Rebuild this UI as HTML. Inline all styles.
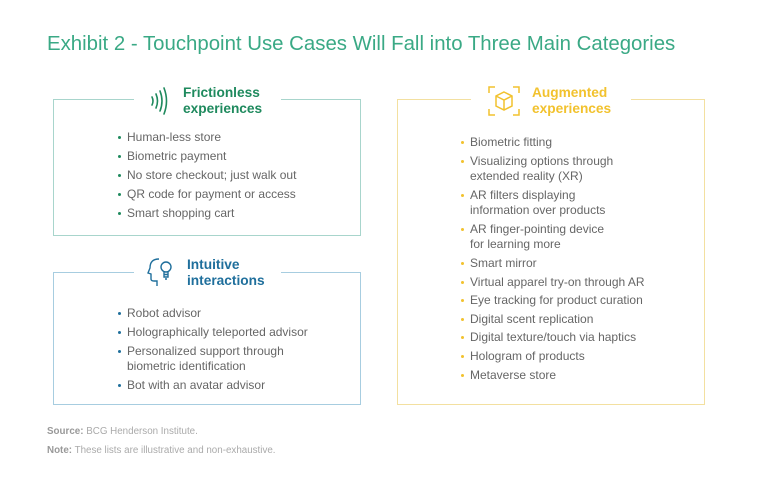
<!DOCTYPE html>
<html><head><meta charset="utf-8"><style>
body{margin:0;width:768px;height:487px;background:#fff;font-family:"Liberation Sans",sans-serif;position:relative;overflow:hidden}
.t{position:absolute;left:47px;top:33px;font-size:20.4px;color:#3aa985;white-space:nowrap}
.box{position:absolute;border:1px solid;}
.gap{position:absolute;top:-2px;height:4px;background:#fff}
.h{position:absolute;font-weight:bold;font-size:13.7px;line-height:16px}
.li{position:absolute;font-size:12px;color:#666;line-height:15px;white-space:nowrap}
.li b{position:absolute;left:-9px;top:6px;width:3px;height:3px;border-radius:50%}
.s{position:absolute;left:47px;font-size:9.8px;color:#aaa}
.s b{color:#999}
</style></head><body>
<div class="t">Exhibit 2 - Touchpoint Use Cases Will Fall into Three Main Categories</div>

<div class="box" style="left:53px;top:99px;width:306px;height:135px;border-color:#a8d5cc"><div class="gap" style="left:80px;width:147px"></div></div>
<div class="box" style="left:53px;top:272px;width:306px;height:131px;border-color:#a7cde0"><div class="gap" style="left:80px;width:147px"></div></div>
<div class="box" style="left:397px;top:99px;width:306px;height:304px;border-color:#f3e0a0"><div class="gap" style="left:73px;width:160px"></div></div>

<svg style="position:absolute;left:148px;top:86px" width="24" height="30" viewBox="0 0 24 30" fill="none" stroke="#1f8a5e" stroke-width="1.6" stroke-linecap="round">
<path d="M4 11 Q6 15 4 19"/><path d="M8 8 Q11 15 8 22"/><path d="M12 5 Q16 15 12 25"/><path d="M16 2 Q21 15 16 28"/></svg>
<div class="h" style="left:183px;top:85px;color:#1f8a5e">Frictionless<br>experiences</div>

<svg style="position:absolute;left:147px;top:257px" width="28" height="30" viewBox="0 0 28 30" fill="none" stroke="#1f6f9c" stroke-width="1.4">
<path d="M12 2 Q3 2 3 11 L1 16 L4 17 L4 22 Q4 24 7 24 L10 24 L10 29"/><circle cx="19" cy="10" r="5"/><path d="M17 15 L17 20 L21 20 L21 15 M17 17.5 H21 M18 22 H20"/></svg>
<div class="h" style="left:187px;top:257px;color:#1f6f9c">Intuitive<br>interactions</div>

<svg style="position:absolute;left:488px;top:85px" width="32" height="32" viewBox="0 0 32 32" fill="none" stroke="#f2c22e" stroke-width="1.5">
<path d="M1 8 V2 H7 M25 2 H31 V8 M31 24 V30 H25 M7 30 H1 V24"/><path d="M16 7 L24 11 L24 21 L16 25 L8 21 L8 11 Z M8 11 L16 15 L24 11 M16 15 V25"/></svg>
<div class="h" style="left:532px;top:85px;color:#f2c22e">Augmented<br>experiences</div>

<div class="li" style="left:127px;top:130px"><b style="background:#1f8a5e"></b>Human-less store</div>
<div class="li" style="left:127px;top:149px"><b style="background:#1f8a5e"></b>Biometric payment</div>
<div class="li" style="left:127px;top:168px"><b style="background:#1f8a5e"></b>No store checkout; just walk out</div>
<div class="li" style="left:127px;top:187px"><b style="background:#1f8a5e"></b>QR code for payment or access</div>
<div class="li" style="left:127px;top:206px"><b style="background:#1f8a5e"></b>Smart shopping cart</div>

<div class="li" style="left:127px;top:306px"><b style="background:#1f6f9c"></b>Robot advisor</div>
<div class="li" style="left:127px;top:325px"><b style="background:#1f6f9c"></b>Holographically teleported advisor</div>
<div class="li" style="left:127px;top:344px"><b style="background:#1f6f9c"></b>Personalized support through<br>biometric identification</div>
<div class="li" style="left:127px;top:378px"><b style="background:#1f6f9c"></b>Bot with an avatar advisor</div>

<div class="li" style="left:470px;top:135px"><b style="background:#f2c22e"></b>Biometric fitting</div>
<div class="li" style="left:470px;top:154px"><b style="background:#f2c22e"></b>Visualizing options through<br>extended reality (XR)</div>
<div class="li" style="left:470px;top:188px"><b style="background:#f2c22e"></b>AR filters displaying<br>information over products</div>
<div class="li" style="left:470px;top:222px"><b style="background:#f2c22e"></b>AR finger-pointing device<br>for learning more</div>
<div class="li" style="left:470px;top:256px"><b style="background:#f2c22e"></b>Smart mirror</div>
<div class="li" style="left:470px;top:275px"><b style="background:#f2c22e"></b>Virtual apparel try-on through AR</div>
<div class="li" style="left:470px;top:293px"><b style="background:#f2c22e"></b>Eye tracking for product curation</div>
<div class="li" style="left:470px;top:312px"><b style="background:#f2c22e"></b>Digital scent replication</div>
<div class="li" style="left:470px;top:330px"><b style="background:#f2c22e"></b>Digital texture/touch via haptics</div>
<div class="li" style="left:470px;top:349px"><b style="background:#f2c22e"></b>Hologram of products</div>
<div class="li" style="left:470px;top:368px"><b style="background:#f2c22e"></b>Metaverse store</div>

<div class="s" style="top:426px"><b>Source:</b> BCG Henderson Institute.</div>
<div class="s" style="top:445px"><b>Note:</b> These lists are illustrative and non-exhaustive.</div>
</body></html>
